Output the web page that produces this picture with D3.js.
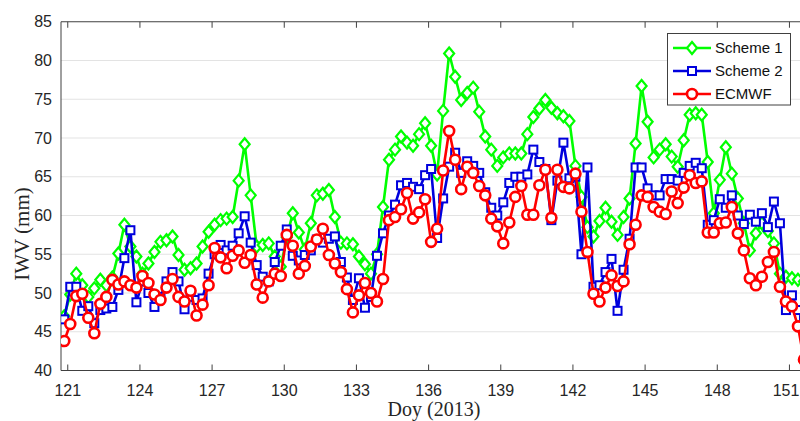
<!DOCTYPE html>
<html>
<head>
<meta charset="utf-8">
<script src="https://cdn.jsdelivr.net/npm/d3@7/dist/d3.min.js"></script>
<style>
  html, body { margin: 0; padding: 0; background: #fff; }
  svg { display: block; }
</style>
</head>
<body>
<svg id="chart" width="800" height="421"></svg>
<script>
// ---- Data (IWV, mm) sampled every 6 hours ----
const startDoy = 120.875;
const stepDays = 0.25;

const scheme1 = [
  47.0, 49.8, 52.5, 51.0, 49.5, 50.6, 51.7, 51.0, 52.0, 55.1,
  58.8, 56.0, 54.7, 52.5, 53.8, 55.3, 56.6, 56.8, 57.3, 54.9,
  53.0, 53.2, 53.8, 56.0, 57.9, 58.8, 59.4, 59.6, 59.8, 64.5,
  69.2, 62.6, 56.0, 56.2, 56.4, 54.7, 53.4, 57.2, 60.3, 57.8,
  55.6, 59.0, 62.6, 62.8, 63.3, 59.8, 56.5, 56.4, 56.3, 54.7,
  53.7, 52.5, 55.0, 61.1, 67.2, 68.5, 70.2, 69.4, 69.0, 70.5,
  71.9, 69.0, 65.3, 73.5, 80.9, 77.9, 74.9, 75.8, 76.5, 73.4,
  70.2, 68.5, 66.4, 67.5, 68.0, 68.0, 68.0, 70.5, 72.7, 73.8,
  74.9, 73.9, 73.2, 72.8, 72.2, 66.4, 62.4, 58.5, 57.3, 59.3,
  61.0, 59.2, 57.5, 59.8, 62.2, 69.3, 76.7, 72.1, 67.5, 68.5,
  69.2, 67.6, 66.3, 69.7, 73.0, 73.2, 73.0, 66.9, 60.3, 64.6,
  68.8, 65.4, 62.2, 59.0, 55.5, 57.7, 59.0, 58.0, 56.4, 52.5,
  52.1, 51.9, 51.7, 51.5
];

const scheme2 = [
  46.6, 50.8, 50.8, 47.7, 48.3, 46.1, 47.8, 48.0, 48.2, 50.4,
  54.5, 58.1, 48.8, 51.5, 50.0, 48.2, 49.5, 51.5, 52.7, 51.5,
  47.9, 49.5, 49.1, 49.3, 52.5, 55.0, 56.2, 55.5, 56.1, 57.7,
  59.9, 56.5, 53.6, 52.1, 51.5, 54.0, 56.1, 58.2, 54.8, 54.2,
  54.9, 55.5, 56.9, 56.5, 57.0, 57.3, 54.0, 52.0, 49.1, 51.9,
  48.1, 49.5, 54.8, 57.7, 60.0, 61.4, 63.9, 64.2, 63.7, 63.4,
  65.2, 66.0, 57.1, 62.2, 66.3, 68.1, 65.5, 67.0, 66.4, 65.5,
  63.0, 61.0, 60.0, 61.7, 64.2, 65.0, 65.0, 65.3, 68.5, 66.9,
  66.0, 59.4, 64.5, 69.4, 64.8, 65.0, 55.0, 66.2, 50.8, 51.0,
  52.7, 54.4, 47.7, 53.0, 57.0, 66.2, 66.2, 63.5, 62.6, 62.6,
  64.7, 64.7, 64.5, 65.5, 66.4, 66.8, 66.1, 58.8, 59.4, 62.1,
  61.0, 62.6, 60.0, 58.9, 60.1, 59.2, 60.3, 58.5, 61.8, 59.0,
  47.8, 49.7, 47.8, 46.5
];

const ecmwf = [
  43.8, 46.0, 49.6, 49.9, 46.8, 44.8, 48.6, 49.5, 51.7, 51.1,
  51.5, 51.0, 50.7, 52.2, 51.3, 49.8, 49.1, 50.7, 51.8, 49.5,
  48.9, 50.3, 47.1, 48.5, 51.0, 55.8, 54.6, 53.2, 54.8, 55.5,
  53.9, 54.9, 51.1, 49.4, 51.5, 52.5, 52.2, 57.5, 56.1, 52.5,
  53.5, 56.0, 56.9, 58.3, 54.9, 53.8, 52.7, 50.5, 47.5, 49.7,
  51.3, 50.0, 48.9, 51.8, 59.4, 59.8, 60.8, 62.9, 59.6, 60.4,
  62.1, 56.6, 58.3, 65.8, 70.9, 67.2, 63.4, 66.3, 65.5, 63.8,
  62.6, 59.6, 58.6, 56.4, 59.1, 62.4, 63.8, 60.1, 60.1, 63.9,
  65.9, 59.7, 65.9, 63.7, 63.5, 65.4, 60.5, 55.3, 49.9, 48.9,
  50.7, 52.3, 50.9, 51.5, 56.3, 58.8, 62.6, 62.4, 61.1, 60.5,
  60.2, 63.1, 61.6, 63.6, 65.2, 64.2, 64.4, 57.8, 57.8, 59.0,
  59.1, 61.1, 57.7, 55.5, 51.9, 51.0, 52.1, 54.0, 55.3, 50.8,
  48.9, 48.3, 45.7, 41.4
];

const xTicks = [121, 124, 127, 130, 133, 136, 139, 142, 145, 148, 151];
const yTicks = [40, 45, 50, 55, 60, 65, 70, 75, 80, 85];
const seriesNames = ["Scheme 1", "Scheme 2", "ECMWF"];
const xLabel = "Doy (2013)";
const yLabel = "IWV (mm)";

// ---- Layout ----
const W = 800;
const plot = { left: 61, right: 813, top: 21.75, bottom: 370.5 };
const svg = d3.select("#chart");

const x = d3.scaleLinear().domain([120.74, 152]).range([plot.left, plot.right]);
const y = d3.scaleLinear().domain([40, 85]).range([plot.bottom, plot.top]);

const tOf = i => startDoy + stepDays * i;

// grid
svg.append("g").selectAll("line").data(yTicks.slice(1, -1)).join("line")
  .attr("x1", plot.left).attr("x2", plot.right)
  .attr("y1", d => y(d)).attr("y2", d => y(d))
  .attr("stroke", "#e3e3e3").attr("stroke-width", 1);

// clip
svg.append("clipPath").attr("id", "clip").append("rect")
  .attr("x", plot.left).attr("y", plot.top)
  .attr("width", plot.right - plot.left).attr("height", plot.bottom - plot.top);

const tickFont = "'Liberation Sans', Arial, sans-serif";

// bottom axis
const xAxis = d3.axisBottom(x).tickValues(xTicks).tickSize(-6).tickPadding(14).tickFormat(d3.format("d"));
const gx = svg.append("g").attr("transform", `translate(0,${plot.bottom})`).call(xAxis);
gx.select(".domain").remove();
gx.selectAll("line").attr("stroke", "#404040");
gx.selectAll("text").attr("font-family", tickFont).attr("font-size", 16).attr("fill", "#262626");
// keep the last label inside the picture
gx.selectAll(".tick text").each(function () {
  const b = this.getBBox();
  const tx = x(d3.select(this.parentNode).datum());
  const overflow = tx + b.x + b.width - (W - 1);
  if (overflow > 0) d3.select(this).attr("dx", -overflow);
});

// top ticks
const xAxisTop = d3.axisTop(x).tickValues(xTicks).tickSize(-6).tickFormat("");
const gxt = svg.append("g").attr("transform", `translate(0,${plot.top})`).call(xAxisTop);
gxt.select(".domain").remove();
gxt.selectAll("line").attr("stroke", "#404040");

// left axis
const yAxis = d3.axisLeft(y).tickValues(yTicks).tickSize(0).tickPadding(9).tickFormat(d3.format("d"));
const gy = svg.append("g").attr("transform", `translate(${plot.left},0)`).call(yAxis);
gy.select(".domain").remove();
gy.selectAll("text").attr("font-family", tickFont).attr("font-size", 16).attr("fill", "#262626");

// frame
svg.append("path")
  .attr("d", `M${plot.right},${plot.top}H${plot.left}V${plot.bottom}H${plot.right}`)
  .attr("fill", "none").attr("stroke", "#404040").attr("stroke-width", 1);

// axis labels
svg.append("text").text(xLabel)
  .attr("x", 434).attr("y", 416)
  .attr("text-anchor", "middle")
  .attr("font-family", "'Liberation Serif', 'Times New Roman', serif")
  .attr("font-size", 20).attr("fill", "#262626");
svg.append("text").text(yLabel)
  .attr("transform", "translate(29,234) rotate(-90)")
  .attr("text-anchor", "middle")
  .attr("font-family", "'Liberation Serif', 'Times New Roman', serif")
  .attr("font-size", 21).attr("fill", "#262626");

// series
const styles = [
  { data: scheme1, color: "#00ff00", marker: "diamond" },
  { data: scheme2, color: "#0000dd", marker: "square" },
  { data: ecmwf, color: "#ff0000", marker: "circle" }
];

function drawMarker(g, type, color, cx, cy) {
  if (type === "diamond") {
    g.append("path").attr("d", `M${cx},${cy - 6}L${cx + 5},${cy}L${cx},${cy + 6}L${cx - 5},${cy}Z`)
      .attr("fill", "#fff").attr("stroke", color).attr("stroke-width", 2.2);
  } else if (type === "square") {
    g.append("rect").attr("x", cx - 4).attr("y", cy - 4).attr("width", 8).attr("height", 8)
      .attr("fill", "#fff").attr("stroke", color).attr("stroke-width", 2);
  } else {
    g.append("circle").attr("cx", cx).attr("cy", cy).attr("r", 5)
      .attr("fill", "#fff").attr("stroke", color).attr("stroke-width", 2.6);
  }
}

const plotG = svg.append("g").attr("clip-path", "url(#clip)");
const line = d3.line().x((d, i) => x(tOf(i))).y(d => y(d));
styles.forEach(s => {
  const g = plotG.append("g");
  g.append("path").datum(s.data).attr("d", line)
    .attr("fill", "none").attr("stroke", s.color).attr("stroke-width", 2.6)
    .attr("stroke-linejoin", "round");
  s.data.forEach((v, i) => drawMarker(g, s.marker, s.color, x(tOf(i)), y(v)));
});

// legend
const lg = svg.append("g");
lg.append("rect").attr("x", 667.5).attr("y", 33.5).attr("width", 123).attr("height", 71.5)
  .attr("fill", "#fff").attr("stroke", "#404040").attr("stroke-width", 1);
const rowsY = [48, 71, 94];
styles.forEach((s, k) => {
  const yy = rowsY[k];
  lg.append("line").attr("x1", 673).attr("x2", 711).attr("y1", yy).attr("y2", yy)
    .attr("stroke", s.color).attr("stroke-width", 2.6);
  drawMarker(lg, s.marker, s.color, 692, yy);
  lg.append("text").text(seriesNames[k]).attr("x", 715).attr("y", yy + 5)
    .attr("font-family", tickFont).attr("font-size", 15).attr("fill", "#111");
});
</script>
</body>
</html>
